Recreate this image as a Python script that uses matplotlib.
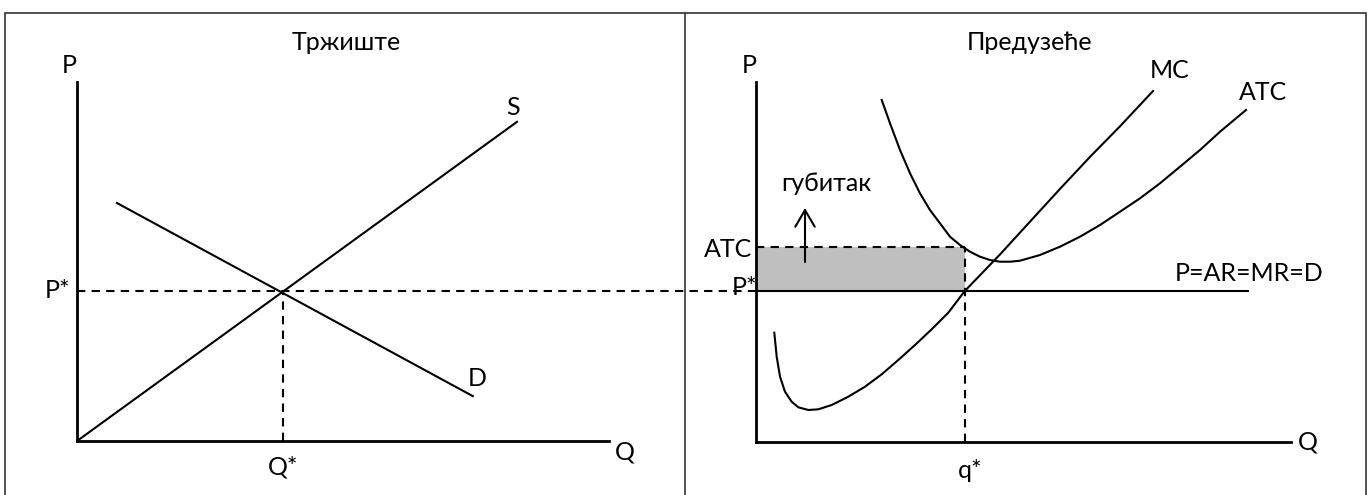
import matplotlib
matplotlib.use("Agg")
import matplotlib.pyplot as plt
from matplotlib.patches import Rectangle
from matplotlib.lines import Line2D

plt.rcParams['font.family'] = ['Lato', 'Open Sans', 'DejaVu Sans']

# ---- market (left panel) ----
supply_q = [0.0, 8.27]
supply_p = [0.0, 8.89]
demand_q = [0.75, 7.44]
demand_p = [6.63, 1.25]
q_eq = 3.87
p_eq = 4.18

# ---- firm (right panel) ----
mc_q = [0.342, 0.387, 0.449, 0.542, 0.667, 0.791, 0.978, 1.164, 1.415, 1.725,
        2.037, 2.350, 2.660, 2.972, 3.284, 3.594, 3.90, 4.561, 5.121, 5.682,
        6.243, 6.804, 7.421]
mc_p = [3.036, 2.369, 1.814, 1.397, 1.119, 0.964, 0.889, 0.908, 1.028, 1.258,
        1.536, 1.881, 2.278, 2.694, 3.131, 3.592, 4.19, 5.21, 6.12, 7.03,
        7.92, 8.77, 9.75]
atc_q = [2.350, 2.505, 2.692, 2.879, 3.065, 3.252, 3.439, 3.626, 3.813, 4.0,
         4.187, 4.374, 4.561, 4.748, 4.935, 5.308, 5.682, 6.056, 6.430, 6.804,
         7.178, 7.551, 7.925, 8.299, 8.673, 9.159]
atc_p = [9.500, 8.853, 8.111, 7.464, 6.908, 6.444, 6.075, 5.703, 5.472, 5.286,
         5.147, 5.056, 5.008, 5.008, 5.036, 5.194, 5.425, 5.703, 6.028, 6.397,
         6.769, 7.186, 7.647, 8.111, 8.619, 9.222]
firm_price = 4.19
firm_q = 3.90
atc_at_q = 5.42
demand_end = 9.2

fs = 18
lw = 1.5
dash = (0, (4, 3))

fig = plt.figure(figsize=(13.71, 4.95), dpi=100)

# frame and divider
fig.add_artist(Rectangle((5 / 1371, -0.01), 1361 / 1371, (482 / 495) + 0.01,
                         transform=fig.transFigure, fill=False, lw=1.2, ec="#333333"))
fig.add_artist(Line2D([685 / 1371, 685 / 1371], [-0.01, 482 / 495],
                      transform=fig.transFigure, lw=1.2, color="#333333"))

ax1 = fig.add_axes([0.05616, 0.10909, 0.38804, 0.72525])
ax2 = fig.add_axes([0.55142, 0.10707, 0.39023, 0.72727])

for ax in (ax1, ax2):
    ax.set_xlim(0, 10)
    ax.set_ylim(0, 10)
    ax.patch.set_visible(False)
    for s in ("top", "right"):
        ax.spines[s].set_visible(False)
    for s in ("left", "bottom"):
        ax.spines[s].set_linewidth(2)
    ax.set_xticks([])
    ax.set_yticks([])

# left panel
ax1.plot(supply_q, supply_p, color="black", lw=lw)
ax1.plot(demand_q, demand_p, color="black", lw=lw)
ax1.plot([0, 12.74], [p_eq, p_eq], color="black", lw=lw, ls=dash, clip_on=False)
ax1.plot([q_eq, q_eq], [0, p_eq], color="black", lw=lw, ls=dash)
ax1.text(5.06, 11.11, "Тржиште", fontsize=fs, ha="center", va="center")
ax1.text(-0.15, 10.47, "P", fontsize=fs, ha="center", va="center")
ax1.text(-0.12, p_eq, "P*", fontsize=fs, ha="right", va="center")
ax1.text(8.2, 9.3, "S", fontsize=fs, ha="center", va="center")
ax1.text(7.52, 1.75, "D", fontsize=fs, ha="center", va="center")
ax1.text(10.3, -0.3, "Q", fontsize=fs, ha="center", va="center")
ax1.text(q_eq, -0.72, "Q*", fontsize=fs, ha="center", va="center")

# right panel
ax2.fill_between([0, firm_q], firm_price, atc_at_q, color="#bfbfbf", lw=0)
ax2.plot([0, firm_q], [atc_at_q, atc_at_q], color="black", lw=lw, ls=dash)
ax2.plot([firm_q, firm_q], [0, atc_at_q], color="black", lw=lw, ls=dash)
ax2.plot([0, demand_end], [firm_price, firm_price], color="black", lw=lw)
ax2.plot(mc_q, mc_p, color="black", lw=lw)
ax2.plot(atc_q, atc_p, color="black", lw=lw)
ax2.annotate("", xy=(0.916, 6.5), xytext=(0.916, 5.0),
             arrowprops=dict(arrowstyle="->,head_length=0.6,head_width=0.35",
                             lw=lw, color="black", mutation_scale=20,
                             shrinkA=0, shrinkB=0))
ax2.text(5.12, 11.11, "Предузеће", fontsize=fs, ha="center", va="center")
ax2.text(-0.13, 10.47, "P", fontsize=fs, ha="center", va="center")
ax2.text(7.74, 10.33, "MC", fontsize=fs, ha="center", va="center")
ax2.text(9.48, 9.72, "ATC", fontsize=fs, ha="center", va="center")
ax2.text(9.21, 4.67, "P=AR=MR=D", fontsize=fs, ha="center", va="center")
ax2.text(-0.07, 5.36, "ATC", fontsize=fs, ha="right", va="center")
ax2.text(0.03, 4.3, "P*", fontsize=fs, ha="right", va="center")
ax2.text(1.31, 7.19, "губитак", fontsize=fs, ha="center", va="center")
ax2.text(4.0, -0.78, "q*", fontsize=fs, ha="center", va="center")
ax2.text(10.32, 0.0, "Q", fontsize=fs, ha="center", va="center")

fig.savefig("out.png", dpi=100)
